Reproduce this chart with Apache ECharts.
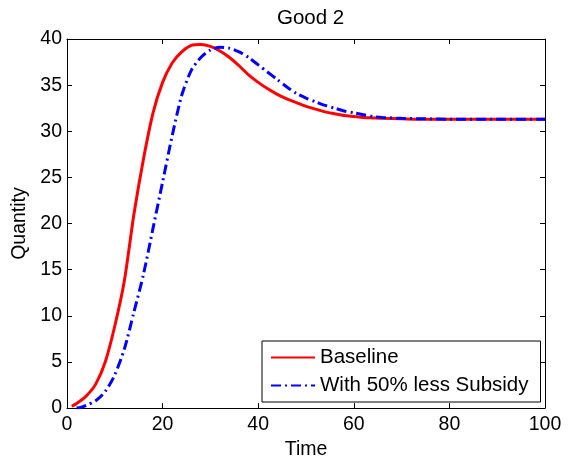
<!DOCTYPE html>
<html>
<head>
<meta charset="utf-8">
<script src="https://cdn.jsdelivr.net/npm/echarts@6/dist/echarts.min.js"></script>
<style>html,body{margin:0;padding:0;background:#fff}#c{width:568px;height:465px}</style>
</head>
<body>
<div id="c"></div>
<script>
const titleText = 'Good 2';
const xName = 'Time';
const yName = 'Quantity';
const seriesNames = ['Baseline', 'With 50% less Subsidy'];

const baselineT = [1,2,4,6,8,10,12,14,16,18,20,22,24,26,28,30,32,34,36,38,40,42,44,46,48,50,52,54,56,58,60,62,64,66,70,75,80,90,100];
const baselineQ = [0.2,0.5,1.3,2.6,5.0,8.9,13.8,21.0,27.0,32.0,35.3,37.4,38.6,39.3,39.4,39.2,38.7,38.0,37.1,36.1,35.3,34.6,34.0,33.5,33.1,32.7,32.4,32.1,31.9,31.7,31.6,31.5,31.45,31.4,31.35,31.3,31.3,31.3,31.3];

const subsidyT = [2,3,4,6,8,10,12,14,16,18,20,22,24,26,28,30,32,34,36,38,40,42,44,46,48,50,52,54,56,58,60,62,64,66,70,75,80,90,100];
const subsidyQ = [0,0.1,0.3,0.8,1.8,3.6,6.4,10.4,14.5,19.5,24.5,29.5,33.9,36.6,38.0,38.8,39.1,39.0,38.6,38.0,37.2,36.4,35.6,34.8,34.1,33.6,33.2,32.8,32.5,32.2,32.0,31.8,31.6,31.5,31.4,31.35,31.3,31.3,31.3];

const xTicks = [0,20,40,60,80,100];
const yTicks = [0,5,10,15,20,25,30,35,40];

const FONT = 'Liberation Sans';
const pair = (t, q) => t.map((v, i) => [v, q[i]]);

const chart = echarts.init(document.getElementById('c'), null, {renderer: 'canvas'});
const axisCommon = {
  axisLine: {show: true, onZero: false, lineStyle: {color: '#000', width: 1}},
  axisTick: {show: true, inside: true, length: 5, lineStyle: {color: '#000'}},
  splitLine: {show: false}
};
chart.setOption({
  animation: false,
  backgroundColor: '#fff',
  title: {
    text: titleText, left: 272, top: 3,
    textStyle: {fontFamily: FONT, fontSize: 20.5, fontWeight: 'normal', color: '#000'}
  },
  grid: {left: 67, right: 23, top: 39, bottom: 52, containLabel: false},
  legend: {
    orient: 'vertical', left: 262, top: 341,
    padding: [6, 12, 6, 8], itemGap: 7,
    itemWidth: 44, itemHeight: 20,
    borderColor: '#000', borderWidth: 1, backgroundColor: '#fff',
    itemStyle: {opacity: 0},
    textStyle: {fontFamily: FONT, fontSize: 20.5, color: '#000', lineHeight: 20},
    data: seriesNames
  },
  xAxis: [
    Object.assign({
      type: 'value', min: 0, max: 100, interval: 20, position: 'bottom',
      name: xName, nameLocation: 'middle', nameGap: 30,
      nameTextStyle: {fontFamily: FONT, fontSize: 19.5, color: '#000'},
      axisLabel: {fontFamily: FONT, fontSize: 19.5, color: '#000', margin: 7,
        formatter: v => xTicks.includes(v) ? String(v) : ''}
    }, axisCommon),
    Object.assign({
      type: 'value', min: 0, max: 100, interval: 20, position: 'top',
      axisLabel: {show: false}
    }, axisCommon)
  ],
  yAxis: [
    Object.assign({
      type: 'value', min: 0, max: 40, interval: 5, position: 'left',
      name: yName, nameLocation: 'middle', nameGap: 34,
      nameTextStyle: {fontFamily: FONT, fontSize: 19.5, color: '#000'},
      axisLabel: {fontFamily: FONT, fontSize: 19.5, color: '#000', margin: 5,
        formatter: v => yTicks.includes(v) ? String(v) : ''}
    }, axisCommon),
    Object.assign({
      type: 'value', min: 0, max: 40, interval: 5, position: 'right',
      axisLabel: {show: false}
    }, axisCommon)
  ],
  series: [
    {
      name: seriesNames[0], type: 'line', smooth: 0.25, symbol: 'none', showSymbol: false,
      data: pair(baselineT, baselineQ), z: 2,
      itemStyle: {color: '#ff0000'},
      lineStyle: {color: '#ff0000', width: 3, type: 'solid'}
    },
    {
      name: seriesNames[1], type: 'line', smooth: 0.25, symbol: 'none', showSymbol: false,
      data: pair(subsidyT, subsidyQ), z: 3,
      itemStyle: {color: '#0000ff'},
      lineStyle: {color: '#0000ff', width: 3, type: [10, 4, 2, 4]}
    }
  ]
});
</script>
</body>
</html>
